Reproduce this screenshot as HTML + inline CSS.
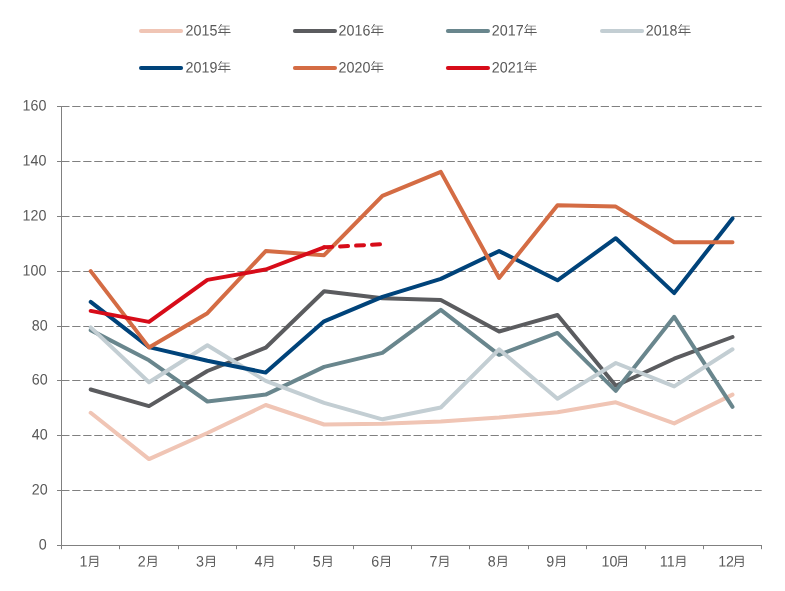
<!DOCTYPE html>
<html><head><meta charset="utf-8"><title>chart</title>
<style>html,body{margin:0;padding:0;background:#fff;}body{width:785px;height:591px;overflow:hidden;}svg{display:block;will-change:transform;}text{font-family:"Liberation Sans",sans-serif;font-size:14.3px;fill:#595959;}</style>
</head><body>
<svg width="785" height="591" viewBox="0 0 785 591">
<defs>
<g id="nian" fill="none" stroke="#595959" stroke-width="1" stroke-linecap="butt">
<path d="M3.7,-11.2 L0.8,-6.6"/>
<path d="M3.2,-9.1 H11.9" stroke-opacity="0.6"/>
<path d="M2.0,-5.9 H11.9"/>
<path d="M2.3,-5.9 V-2.7"/>
<path d="M0.3,-2.7 H12.7"/>
<path d="M7.2,-9.1 V0.5" stroke-opacity="0.75"/>
</g>
<g id="yue" fill="none" stroke="#595959" stroke-width="1" stroke-linecap="butt" stroke-linejoin="miter">
<path d="M2.0,-9.7 H9.6 V0.1 Q9.6,0.5 9.0,0.5 H6.2"/>
<path d="M2.0,-9.7 V-3.4 Q1.95,-0.8 0.8,0.65"/>
<path d="M2.0,-6.7 H9.6"/>
<path d="M2.0,-3.6 H9.6"/>
</g>
</defs>
<rect width="785" height="591" fill="#fff"/>
<line x1="61.2" x2="761.7" y1="490.5" y2="490.5" stroke="#808080" stroke-width="1" stroke-dasharray="8.3 2.71"/>
<line x1="61.2" x2="761.7" y1="435.5" y2="435.5" stroke="#808080" stroke-width="1" stroke-dasharray="8.3 2.71"/>
<line x1="61.2" x2="761.7" y1="380.5" y2="380.5" stroke="#808080" stroke-width="1" stroke-dasharray="8.3 2.71"/>
<line x1="61.2" x2="761.7" y1="326.5" y2="326.5" stroke="#808080" stroke-width="1" stroke-dasharray="8.3 2.71"/>
<line x1="61.2" x2="761.7" y1="271.5" y2="271.5" stroke="#808080" stroke-width="1" stroke-dasharray="8.3 2.71"/>
<line x1="61.2" x2="761.7" y1="216.5" y2="216.5" stroke="#808080" stroke-width="1" stroke-dasharray="8.3 2.71"/>
<line x1="61.2" x2="761.7" y1="161.5" y2="161.5" stroke="#808080" stroke-width="1" stroke-dasharray="8.3 2.71"/>
<line x1="61.2" x2="761.7" y1="106.5" y2="106.5" stroke="#808080" stroke-width="1" stroke-dasharray="8.3 2.71"/>
<line x1="61.5" x2="61.5" y1="106.5" y2="546.0" stroke="#808080" stroke-width="1"/>
<line x1="57.0" x2="762.0" y1="545.5" y2="545.5" stroke="#808080" stroke-width="1"/>
<line x1="57" x2="61.5" y1="545.5" y2="545.5" stroke="#808080" stroke-width="1"/>
<text transform="translate(46.70,549.60) rotate(0.03) scale(1,1.06)" text-anchor="end">0</text>
<line x1="57" x2="61.5" y1="490.5" y2="490.5" stroke="#808080" stroke-width="1"/>
<text transform="translate(47.70,494.60) rotate(0.03) scale(1,1.06)" text-anchor="end">20</text>
<line x1="57" x2="61.5" y1="435.5" y2="435.5" stroke="#808080" stroke-width="1"/>
<text transform="translate(47.70,439.60) rotate(0.03) scale(1,1.06)" text-anchor="end">40</text>
<line x1="57" x2="61.5" y1="380.5" y2="380.5" stroke="#808080" stroke-width="1"/>
<text transform="translate(47.70,384.60) rotate(0.03) scale(1,1.06)" text-anchor="end">60</text>
<line x1="57" x2="61.5" y1="326.5" y2="326.5" stroke="#808080" stroke-width="1"/>
<text transform="translate(47.70,330.60) rotate(0.03) scale(1,1.06)" text-anchor="end">80</text>
<line x1="57" x2="61.5" y1="271.5" y2="271.5" stroke="#808080" stroke-width="1"/>
<text transform="translate(46.45,275.60) rotate(0.03) scale(1,1.06)" text-anchor="end">100</text>
<line x1="57" x2="61.5" y1="216.5" y2="216.5" stroke="#808080" stroke-width="1"/>
<text transform="translate(46.45,220.60) rotate(0.03) scale(1,1.06)" text-anchor="end">120</text>
<line x1="57" x2="61.5" y1="161.5" y2="161.5" stroke="#808080" stroke-width="1"/>
<text transform="translate(46.45,165.60) rotate(0.03) scale(1,1.06)" text-anchor="end">140</text>
<line x1="57" x2="61.5" y1="106.5" y2="106.5" stroke="#808080" stroke-width="1"/>
<text transform="translate(46.45,110.60) rotate(0.03) scale(1,1.06)" text-anchor="end">160</text>
<line x1="61.5" x2="61.5" y1="545.5" y2="549.2" stroke="#808080" stroke-width="1"/>
<line x1="119.5" x2="119.5" y1="545.5" y2="549.2" stroke="#808080" stroke-width="1"/>
<line x1="178.5" x2="178.5" y1="545.5" y2="549.2" stroke="#808080" stroke-width="1"/>
<line x1="236.5" x2="236.5" y1="545.5" y2="549.2" stroke="#808080" stroke-width="1"/>
<line x1="294.5" x2="294.5" y1="545.5" y2="549.2" stroke="#808080" stroke-width="1"/>
<line x1="353.5" x2="353.5" y1="545.5" y2="549.2" stroke="#808080" stroke-width="1"/>
<line x1="411.5" x2="411.5" y1="545.5" y2="549.2" stroke="#808080" stroke-width="1"/>
<line x1="469.5" x2="469.5" y1="545.5" y2="549.2" stroke="#808080" stroke-width="1"/>
<line x1="528.5" x2="528.5" y1="545.5" y2="549.2" stroke="#808080" stroke-width="1"/>
<line x1="586.5" x2="586.5" y1="545.5" y2="549.2" stroke="#808080" stroke-width="1"/>
<line x1="645.5" x2="645.5" y1="545.5" y2="549.2" stroke="#808080" stroke-width="1"/>
<line x1="703.5" x2="703.5" y1="545.5" y2="549.2" stroke="#808080" stroke-width="1"/>
<line x1="761.5" x2="761.5" y1="545.5" y2="549.2" stroke="#808080" stroke-width="1"/>
<text transform="translate(79.40,566.60) rotate(0.03) scale(1,1.06)">1</text>
<use href="#yue" x="88.15" y="566"/>
<text transform="translate(137.75,566.60) rotate(0.03) scale(1,1.06)">2</text>
<use href="#yue" x="146.50" y="566"/>
<text transform="translate(196.10,566.60) rotate(0.03) scale(1,1.06)">3</text>
<use href="#yue" x="204.85" y="566"/>
<text transform="translate(254.45,566.60) rotate(0.03) scale(1,1.06)">4</text>
<use href="#yue" x="263.20" y="566"/>
<text transform="translate(312.80,566.60) rotate(0.03) scale(1,1.06)">5</text>
<use href="#yue" x="321.55" y="566"/>
<text transform="translate(371.15,566.60) rotate(0.03) scale(1,1.06)">6</text>
<use href="#yue" x="379.90" y="566"/>
<text transform="translate(429.50,566.60) rotate(0.03) scale(1,1.06)">7</text>
<use href="#yue" x="438.25" y="566"/>
<text transform="translate(487.85,566.60) rotate(0.03) scale(1,1.06)">8</text>
<use href="#yue" x="496.60" y="566"/>
<text transform="translate(546.20,566.60) rotate(0.03) scale(1,1.06)">9</text>
<use href="#yue" x="554.95" y="566"/>
<text transform="translate(601.47,566.60) rotate(0.03) scale(1,1.06)">10</text>
<use href="#yue" x="616.88" y="566"/>
<text transform="translate(659.82,566.60) rotate(0.03) scale(1,1.06)">11</text>
<use href="#yue" x="675.23" y="566"/>
<text transform="translate(718.17,566.60) rotate(0.03) scale(1,1.06)">12</text>
<use href="#yue" x="733.58" y="566"/>
<polyline points="90.7,412.8 149.0,459.1 207.4,433.0 265.7,405.0 324.1,424.5 382.4,423.8 440.8,421.5 499.1,417.6 557.5,412.2 615.8,402.3 674.2,423.4 732.5,394.6" fill="none" stroke="#F0C5B5" stroke-width="4" stroke-linecap="round" stroke-linejoin="round"/>
<polyline points="90.7,389.5 149.0,406.1 207.4,371.0 265.7,347.7 324.1,291.3 382.4,298.3 440.8,299.9 499.1,331.5 557.5,315.0 615.8,385.8 674.2,358.7 732.5,337.0" fill="none" stroke="#5B5C5F" stroke-width="4" stroke-linecap="round" stroke-linejoin="round"/>
<polyline points="90.7,330.1 149.0,360.3 207.4,401.5 265.7,394.6 324.1,366.9 382.4,352.9 440.8,309.9 499.1,354.8 557.5,332.9 615.8,390.8 674.2,316.8 732.5,406.9" fill="none" stroke="#69868D" stroke-width="4" stroke-linecap="round" stroke-linejoin="round"/>
<polyline points="90.7,327.4 149.0,382.2 207.4,345.2 265.7,380.9 324.1,402.8 382.4,419.3 440.8,407.5 499.1,349.3 557.5,398.7 615.8,363.0 674.2,386.4 732.5,349.3" fill="none" stroke="#C3CED3" stroke-width="4" stroke-linecap="round" stroke-linejoin="round"/>
<polyline points="90.7,301.9 149.0,347.1 207.4,360.8 265.7,372.6 324.1,321.3 382.4,296.9 440.8,278.9 499.1,251.1 557.5,280.3 615.8,238.2 674.2,293.1 732.5,218.4" fill="none" stroke="#00437A" stroke-width="4" stroke-linecap="round" stroke-linejoin="round"/>
<polyline points="90.7,271.1 149.0,347.4 207.4,313.2 265.7,251.1 324.1,255.2 382.4,195.8 440.8,171.9 499.1,278.0 557.5,205.3 615.8,206.6 674.2,242.3 732.5,242.3" fill="none" stroke="#D46C44" stroke-width="4" stroke-linecap="round" stroke-linejoin="round"/>
<polyline points="90.7,310.9 149.0,321.9 207.4,279.9 265.7,269.5 324.1,247.3" fill="none" stroke="#D70C19" stroke-width="4" stroke-linecap="round" stroke-linejoin="round"/>
<line x1="324.1" y1="247.3" x2="382.4" y2="244.2" stroke="#D70C19" stroke-width="4" stroke-linecap="round" stroke-dasharray="8 8"/>
<line x1="141.0" x2="181.1" y1="31.0" y2="31.0" stroke="#F0C5B5" stroke-width="4" stroke-linecap="round"/>
<text transform="translate(185.60,35.60) rotate(0.03) scale(1,1.06)">2015</text>
<use href="#nian" x="217.8" y="35.2"/>
<line x1="294.9" x2="335.0" y1="31.0" y2="31.0" stroke="#5B5C5F" stroke-width="4" stroke-linecap="round"/>
<text transform="translate(338.60,35.60) rotate(0.03) scale(1,1.06)">2016</text>
<use href="#nian" x="370.8" y="35.2"/>
<line x1="447.9" x2="488.0" y1="31.0" y2="31.0" stroke="#69868D" stroke-width="4" stroke-linecap="round"/>
<text transform="translate(491.80,35.60) rotate(0.03) scale(1,1.06)">2017</text>
<use href="#nian" x="524.0" y="35.2"/>
<line x1="602.0" x2="642.1" y1="31.0" y2="31.0" stroke="#C3CED3" stroke-width="4" stroke-linecap="round"/>
<text transform="translate(645.70,35.60) rotate(0.03) scale(1,1.06)">2018</text>
<use href="#nian" x="677.9" y="35.2"/>
<line x1="141.0" x2="181.1" y1="68.0" y2="68.0" stroke="#00437A" stroke-width="4" stroke-linecap="round"/>
<text transform="translate(185.60,72.60) rotate(0.03) scale(1,1.06)">2019</text>
<use href="#nian" x="217.8" y="72.2"/>
<line x1="294.9" x2="335.0" y1="68.0" y2="68.0" stroke="#D46C44" stroke-width="4" stroke-linecap="round"/>
<text transform="translate(338.60,72.60) rotate(0.03) scale(1,1.06)">2020</text>
<use href="#nian" x="370.8" y="72.2"/>
<line x1="447.9" x2="488.0" y1="68.0" y2="68.0" stroke="#D70C19" stroke-width="4" stroke-linecap="round"/>
<text transform="translate(491.80,72.60) rotate(0.03) scale(1,1.06)">2021</text>
<use href="#nian" x="524.0" y="72.2"/>
</svg>
</body></html>
